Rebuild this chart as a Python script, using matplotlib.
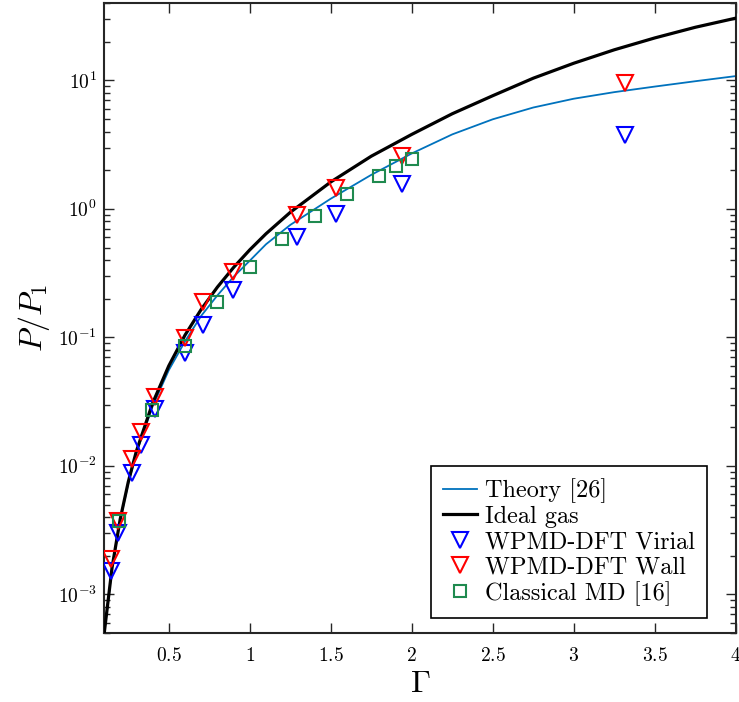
import numpy as np
import matplotlib
matplotlib.use("Agg")
import matplotlib.pyplot as plt
from matplotlib.ticker import FixedLocator, FuncFormatter, LogLocator, NullFormatter

plt.rcParams['font.family'] = 'serif'
plt.rcParams['font.serif'] = ['cmr10']
plt.rcParams['mathtext.fontset'] = 'cm'
plt.rcParams['axes.unicode_minus'] = False

# curves
gamma_curve = [0.10, 0.15, 0.20, 0.25, 0.30, 0.40, 0.50, 0.60, 0.70, 0.80, 0.90, 1.00, 1.10,
               1.25, 1.50, 1.75, 2.00, 2.25, 2.50, 2.75, 3.00, 3.25, 3.50, 3.75, 4.00]
ideal_gas = [4.8e-4, 1.62e-3, 3.84e-3, 7.5e-3, 0.013, 0.0307, 0.06, 0.104, 0.165, 0.246, 0.35,
             0.48, 0.64, 0.94, 1.62, 2.57, 3.80, 5.5, 7.6, 10.4, 13.6, 17.3, 21.4, 25.9, 30.5]
theory = [4.8e-4, 1.6e-3, 3.78e-3, 7.3e-3, 0.0126, 0.029, 0.0555, 0.093, 0.147, 0.212, 0.296,
          0.395, 0.53, 0.75, 1.20, 1.84, 2.70, 3.80, 4.98, 6.15, 7.2, 8.1, 8.95, 9.85, 10.8]

# WPMD-DFT results
gamma_wpmd = [0.144, 0.185, 0.27, 0.326, 0.413, 0.60, 0.709, 0.896, 1.293, 1.533, 1.937, 3.316]
p_virial = [0.00153, 0.0030, 0.0088, 0.0145, 0.0277, 0.076, 0.125, 0.234, 0.60, 0.92, 1.56, 3.77]
p_wall = [0.00187, 0.0037, 0.0114, 0.0184, 0.0345, 0.098, 0.189, 0.32, 0.90, 1.45, 2.59, 9.5]

# classical MD
gamma_md = [0.19, 0.396, 0.60, 0.796, 1.0, 1.2, 1.4, 1.6, 1.8, 1.9, 2.0]
p_md = [0.0037, 0.0272, 0.085, 0.188, 0.35, 0.58, 0.88, 1.31, 1.81, 2.14, 2.45]

xticks = [0.5, 1, 1.5, 2, 2.5, 3, 3.5, 4]
xticklabels = ['0.5', '1', '1.5', '2', '2.5', '3', '3.5', '4']

fig = plt.figure(figsize=(7.39, 7.02), dpi=100)
ax = fig.add_axes([0.1407, 0.0983, 0.855, 0.8974])

ax.plot(gamma_curve, theory, color='#0072BD', lw=1.3, label='Theory [26]', zorder=2)
ax.plot(gamma_curve, ideal_gas, color='black', lw=2.3, label='Ideal gas', zorder=3)
ax.plot(gamma_wpmd, p_virial, 'v', ms=11, mfc='none', mec='#0000ff', mew=1.5,
        label='WPMD-DFT Virial', zorder=4)
ax.plot(gamma_wpmd, p_wall, 'v', ms=11, mfc='none', mec='#ff0000', mew=1.5,
        label='WPMD-DFT Wall', zorder=4)
ax.plot(gamma_md, p_md, 's', ms=9, mfc='none', mec='#1f8a4f', mew=1.5,
        label='Classical MD [16]', zorder=4)

ax.set_yscale('log')
ax.set_xlim(0.1, 4)
ax.set_ylim(5e-4, 40)

ax.xaxis.set_major_locator(FixedLocator(xticks))
ax.set_xticklabels(['$%s$' % t for t in xticklabels])
ax.yaxis.set_major_locator(LogLocator(base=10, numticks=10))
ax.yaxis.set_minor_locator(LogLocator(base=10, subs=np.arange(2, 10), numticks=20))
ax.yaxis.set_major_formatter(FuncFormatter(lambda v, p: '$10^{%d}$' % int(round(np.log10(v)))))
ax.yaxis.set_minor_formatter(NullFormatter())

ax.tick_params(which='both', direction='in', top=True, right=True, labelsize=14,
               color='#262626', width=1.0)
ax.tick_params(which='major', length=7)
ax.tick_params(which='minor', length=4)
ax.tick_params(axis='x', which='major', pad=10)
ax.tick_params(axis='y', which='major', pad=5)
for s in ax.spines.values():
    s.set_linewidth(1.5)
    s.set_color('#262626')

ax.set_xlabel(r'$\Gamma$', fontsize=23, labelpad=4)
ax.set_ylabel(r'$P/P_1$', fontsize=23, labelpad=4)

leg = ax.legend(loc='lower right', bbox_to_anchor=(0.954, 0.024), borderaxespad=0,
                fontsize=17.5, fancybox=False, framealpha=1, edgecolor='black',
                handlelength=1.4, handletextpad=0.3, labelspacing=0.12,
                borderpad=0.5)
leg.get_frame().set_linewidth(1.2)

fig.savefig('out.png', dpi=100)
